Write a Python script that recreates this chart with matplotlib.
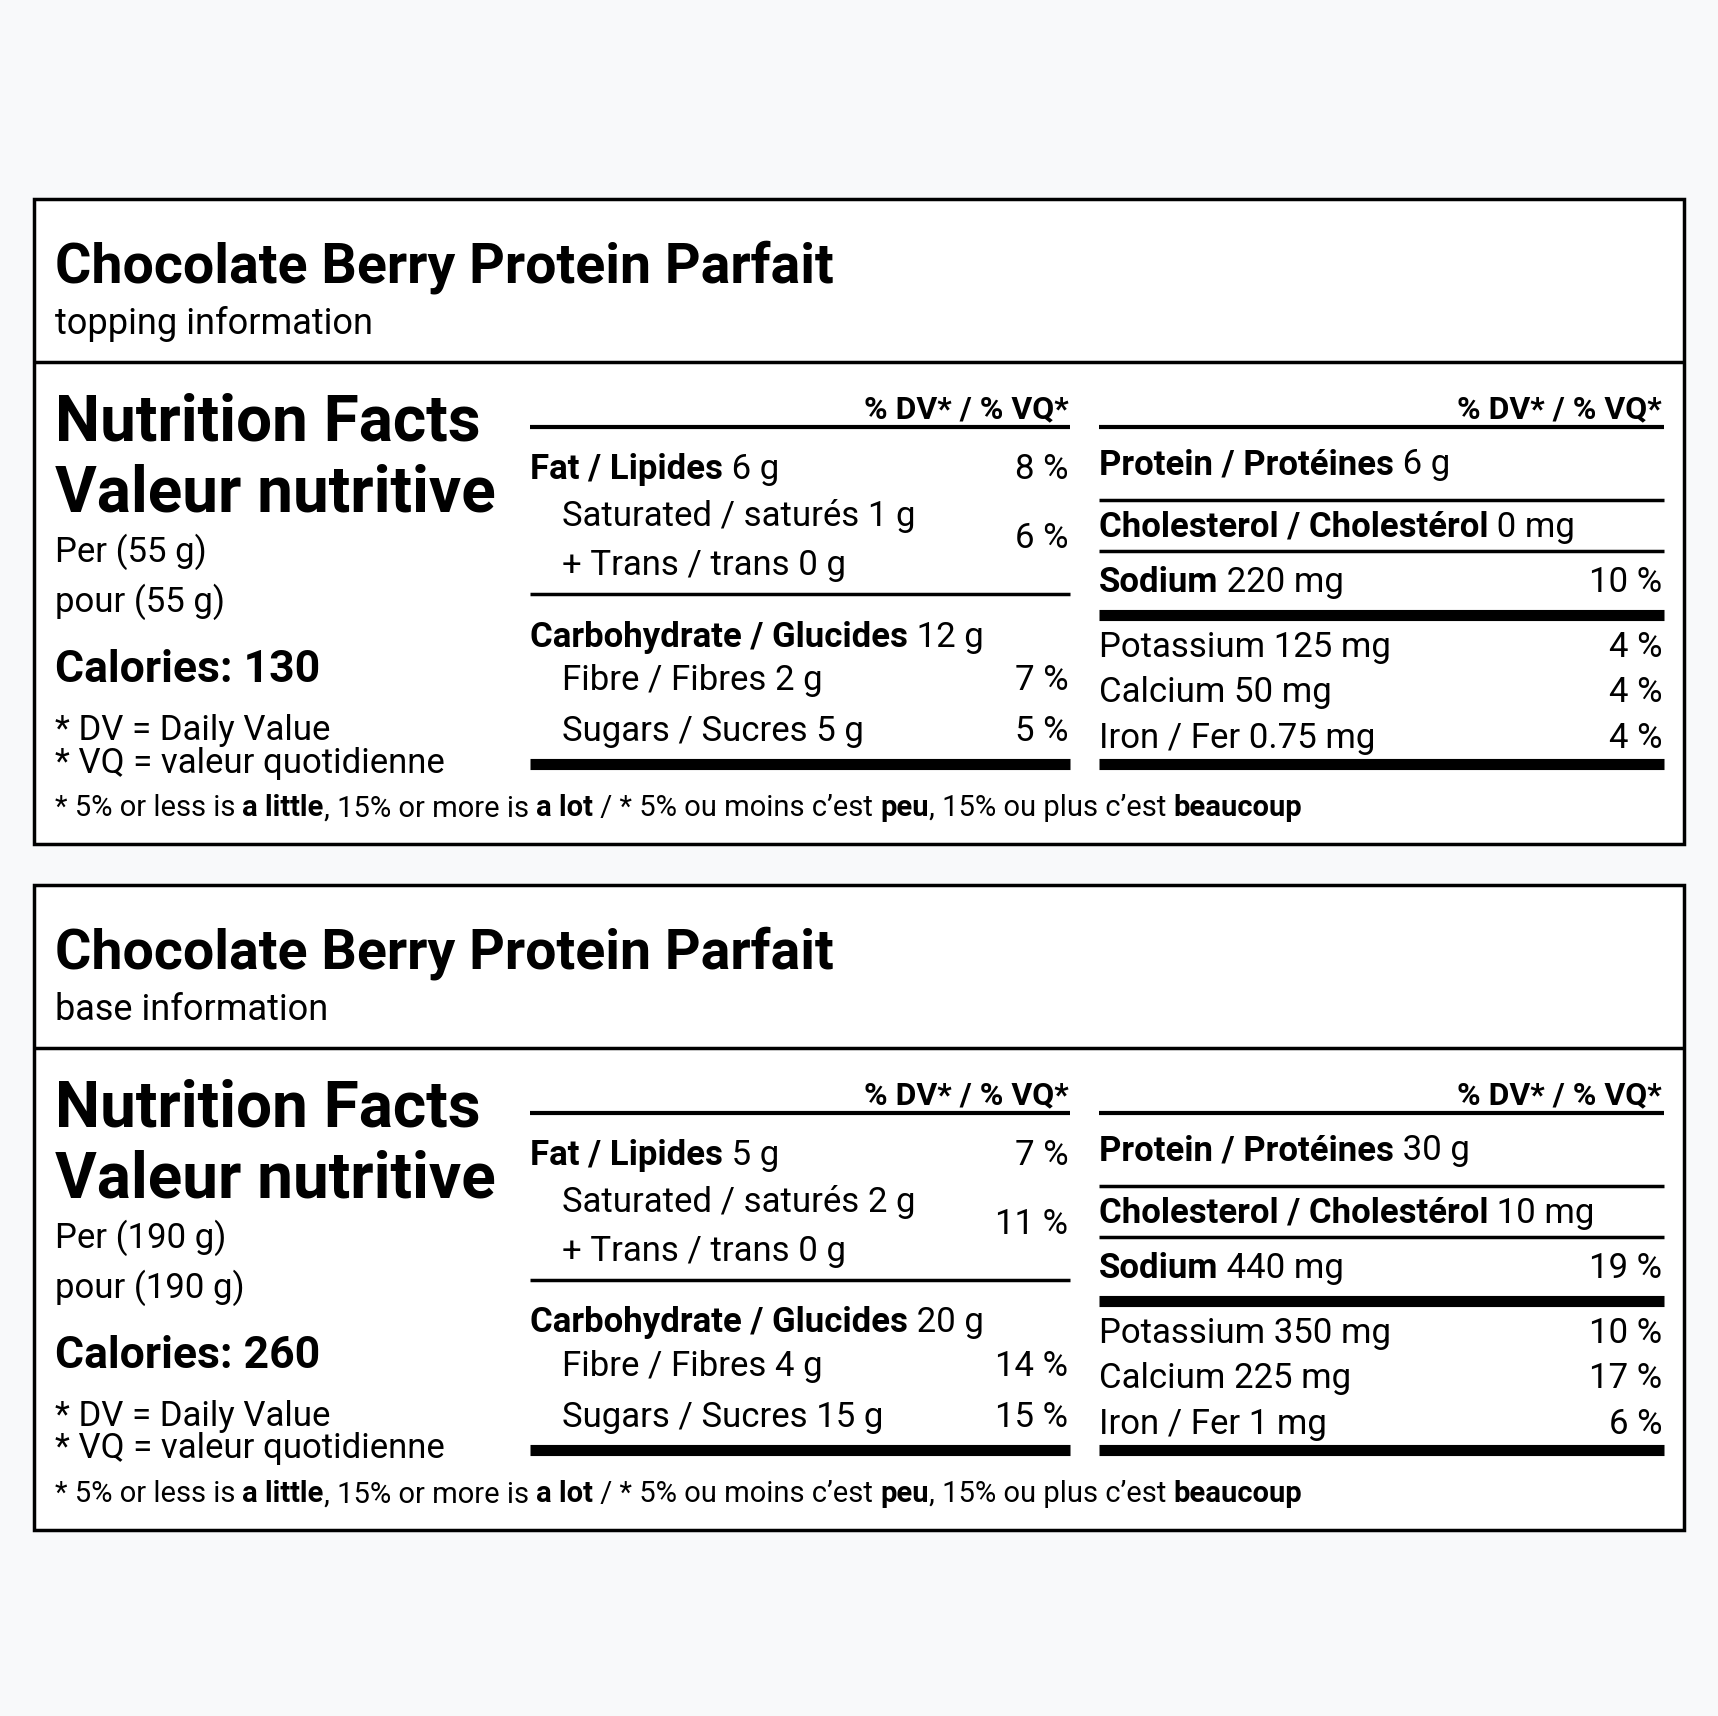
import matplotlib
matplotlib.use("Agg")
import matplotlib.pyplot as plt

plt.rcParams['font.family'] = ['Liberation Sans Narrow', 'Roboto', 'DejaVu Sans']

titles = ["Chocolate Berry Protein Parfait", "Chocolate Berry Protein Parfait"]
subtitles = ["topping information", "base information"]
serving = ["55 g", "190 g"]
calories = [130, 260]
fat = ["6 g", "5 g"]; fat_dv = ["8 %", "7 %"]
sat = ["1 g", "2 g"]; trans = ["0 g", "0 g"]; sat_dv = ["6 %", "11 %"]
carb = ["12 g", "20 g"]
fibre = ["2 g", "4 g"]; fibre_dv = ["7 %", "14 %"]
sugars = ["5 g", "15 g"]; sugars_dv = ["5 %", "15 %"]
protein = ["6 g", "30 g"]
chol = ["0 mg", "10 mg"]
sodium = ["220 mg", "440 mg"]; sodium_dv = ["10 %", "19 %"]
potassium = ["125 mg", "350 mg"]; potassium_dv = ["4 %", "10 %"]
calcium = ["50 mg", "225 mg"]; calcium_dv = ["4 %", "17 %"]
iron = ["0.75 mg", "1 mg"]; iron_dv = ["4 %", "6 %"]

W, H = 1568, 1566
fig = plt.figure(figsize=(17.18, 17.16), dpi=100)
fig.patch.set_facecolor('#f8f9fa')
ax = fig.add_axes([0, 0, 1, 1])
ax.set_xlim(0, W); ax.set_ylim(H, 0); ax.axis('off')
renderer = fig.canvas.get_renderer()
inv = ax.transData.inverted()

def segs(x, y, parts, size):
    for txt, bold in parts:
        t = ax.text(x, y, txt, fontsize=size, fontweight='bold' if bold else 'normal',
                    va='baseline', ha='left')
        bb = t.get_window_extent(renderer)
        x = inv.transform((bb.x1, bb.y0))[0]

def txt(x, y, s, size, bold=False, ha='left'):
    ax.text(x, y, s, fontsize=size, fontweight='bold' if bold else 'normal', va='baseline', ha=ha)

def hline(x0, x1, y, lw):
    ax.plot([x0, x1], [y, y], color='black', lw=lw, solid_capstyle='butt')

RS = 25
for i in range(2):
    o = 626 * i
    ax.add_patch(plt.Rectangle((31, 182 + o), 1506, 588, fill=True, facecolor='white',
                               edgecolor='black', lw=2.5))
    hline(31, 1537, 330 + o, 2.5)
    txt(50, 258 + o, titles[i], 40, True)
    txt(50, 305 + o, subtitles[i], 26)
    txt(50, 402 + o, "Nutrition Facts", 46, True)
    txt(50, 467 + o, "Valeur nutritive", 46, True)
    txt(50, 513 + o, f"Per ({serving[i]})", RS)
    txt(50, 558 + o, f"pour ({serving[i]})", RS)
    txt(50, 622 + o, f"Calories: {calories[i]}", 32, True)
    txt(50, 675 + o, "* DV = Daily Value", RS)
    txt(50, 705 + o, "* VQ = valeur quotidienne", RS)
    segs(50, 745 + o, [("* 5% or less is ", False), ("a little", True), (", 15% or more is ", False),
                       ("a lot", True), (" / * 5% ou moins c\u2019est ", False), ("peu", True),
                       (", 15% ou plus c\u2019est ", False), ("beaucoup", True)], 21)
    # middle column
    L, R = 484, 977
    txt(R - 2, 382 + o, "% DV* / % VQ*", 23, True, 'right')
    hline(L, R, 390 + o, 3)
    segs(L, 437 + o, [("Fat / Lipides", True), (f" {fat[i]}", False)], RS)
    txt(R - 2, 437 + o, fat_dv[i], RS, ha='right')
    txt(L + 29, 480 + o, f"Saturated / saturés {sat[i]}", RS)
    txt(L + 29, 525 + o, f"+ Trans / trans {trans[i]}", RS)
    txt(R - 2, 500 + o, sat_dv[i], RS, ha='right')
    hline(L, R, 542 + o, 2.5)
    segs(L, 590 + o, [("Carbohydrate / Glucides", True), (f" {carb[i]}", False)], RS)
    txt(L + 29, 630 + o, f"Fibre / Fibres {fibre[i]}", RS)
    txt(R - 2, 630 + o, fibre_dv[i], RS, ha='right')
    txt(L + 29, 676 + o, f"Sugars / Sucres {sugars[i]}", RS)
    txt(R - 2, 676 + o, sugars_dv[i], RS, ha='right')
    hline(L, R, 697 + o, 8)
    # right column
    L, R = 1003, 1519
    txt(R - 2, 382 + o, "% DV* / % VQ*", 23, True, 'right')
    hline(L, R, 390 + o, 3)
    segs(L, 433 + o, [("Protein / Protéines", True), (f" {protein[i]}", False)], RS)
    hline(L, R, 456 + o, 2.5)
    segs(L, 490 + o, [("Cholesterol / Cholestérol", True), (f" {chol[i]}", False)], RS)
    hline(L, R, 503 + o, 2.5)
    segs(L, 540 + o, [("Sodium", True), (f" {sodium[i]}", False)], RS)
    txt(R - 2, 540 + o, sodium_dv[i], RS, ha='right')
    hline(L, R, 561 + o, 8)
    for y, name, v, dv in [(600, "Potassium", potassium[i], potassium_dv[i]),
                           (641, "Calcium", calcium[i], calcium_dv[i]),
                           (683, "Iron / Fer", iron[i], iron_dv[i])]:
        txt(L, y + o, f"{name} {v}", RS)
        txt(R - 2, y + o, dv, RS, ha='right')
    hline(L, R, 697 + o, 8)

fig.savefig("out.png", dpi=100, facecolor=fig.get_facecolor())
